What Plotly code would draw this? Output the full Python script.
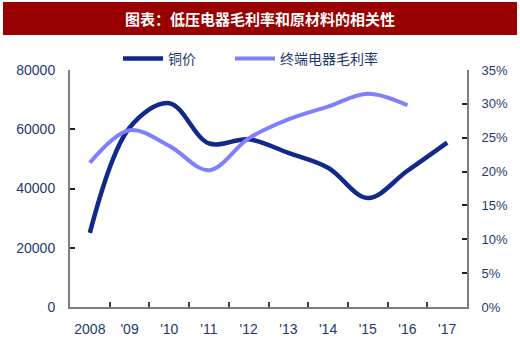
import plotly.graph_objects as go

years = ["2008", "'09", "'10", "'11", "'12", "'13", "'14", "'15", "'16", "'17"]
copper = [25000, 60500, 68800, 55200, 56600, 52000, 47000, 36800, 46000, 55500]
margin_rate = [21.3, 26.1, 23.8, 20.2, 24.9, 27.7, 29.6, 31.5, 29.8, None]

title_text = "图表：低压电器毛利率和原材料的相关性"
name_copper = "铜价"
name_margin = "终端电器毛利率"

fig = go.Figure()
fig.add_trace(go.Scatter(
    x=years, y=copper, name=name_copper, mode="lines",
    line=dict(color="#12298C", width=4.5, shape="spline", smoothing=1.0),
    yaxis="y", legend="legend"))
fig.add_trace(go.Scatter(
    x=years, y=margin_rate, name=name_margin, mode="lines",
    line=dict(color="#8080FF", width=4, shape="spline", smoothing=1.0),
    yaxis="y2", connectgaps=False, legend="legend2"))

label_font = dict(family="Liberation Sans, Arial", size=14, color="#1F3A6E")
legend_font = dict(family="Noto Sans CJK SC", size=14, color="#1F3A6E")

fig.update_layout(
    width=520, height=342,
    margin=dict(l=70, r=53, t=70, b=35),
    paper_bgcolor="white", plot_bgcolor="white",
    showlegend=True,
    legend=dict(orientation="h", x=(118 - 70) / 397, y=1 + 11 / 237, xanchor="left",
                yanchor="middle", font=legend_font, itemwidth=40,
                bgcolor="rgba(0,0,0,0)"),
    legend2=dict(orientation="h", x=(230 - 70) / 397, y=1 + 11 / 237, xanchor="left",
                 yanchor="middle", font=legend_font, itemwidth=40,
                 bgcolor="rgba(0,0,0,0)"),
    xaxis=dict(type="category", showgrid=False, showline=True, linecolor="#7F7F7F",
               linewidth=2, ticks="inside", tickson="boundaries", ticklen=5,
               tickcolor="#404040", tickwidth=1.5, tickfont=label_font, tickangle=0,
               ticklabelstandoff=8,
               automargin=False, range=[-0.5, 9.5], zeroline=False),
    yaxis=dict(range=[0, 80000], dtick=20000, showgrid=False, showline=True,
               linecolor="#7F7F7F", linewidth=2, ticks="inside", ticklen=5,
               tickcolor="#202020", tickwidth=1.5, tickfont=label_font, automargin=False,
               tickformat="d", ticklabelstandoff=10, zeroline=False),
    yaxis2=dict(range=[0, 35], dtick=5, overlaying="y", side="right", showgrid=False,
                showline=True, linecolor="#7F7F7F", linewidth=2, ticks="inside",
                ticklen=5, tickcolor="#202020", tickwidth=1.5, automargin=False,
                tickfont=dict(family="Liberation Sans, Arial", size=13, color="#1F3A6E"),
                ticksuffix="%", ticklabelstandoff=10, zeroline=False),
    shapes=[dict(type="rect", xref="paper", yref="paper",
                 x0=(3 - 70) / 397, x1=(517 - 70) / 397,
                 y0=1 + 35 / 237, y1=1 + 68 / 237,
                 fillcolor="#990000", line=dict(width=0), layer="below")],
    annotations=[dict(text="<b>" + title_text + "</b>", xref="paper", yref="paper",
                      x=(260 - 70) / 397, y=1 + 52 / 237, xanchor="center", yanchor="middle",
                      showarrow=False,
                      font=dict(family="Noto Sans CJK SC", size=15, color="white"))],
)

fig.write_html("out.html")
